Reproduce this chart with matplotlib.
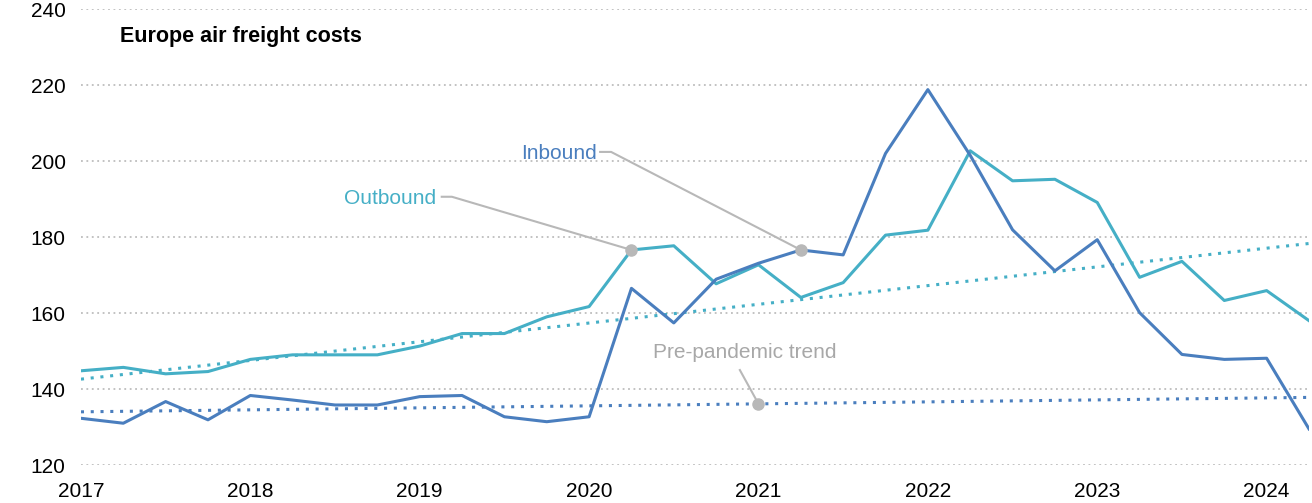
import numpy as np
import matplotlib.pyplot as plt
from matplotlib import font_manager

# данные (квартальные значения, 2017 Q1 - 2024 Q2)
quarters = [2017 + 0.25 * i for i in range(30)]
outbound = [144.8, 145.7, 144.0, 144.6, 147.8, 149.0, 149.0, 149.0, 151.3, 154.6,
            154.6, 159.0, 161.7, 176.6, 177.7, 167.7, 172.7, 164.1, 168.0, 180.5,
            181.8, 202.7, 194.8, 195.2, 189.1, 169.4, 173.6, 163.3, 165.9, 158.0]
inbound = [132.3, 131.0, 136.7, 131.9, 138.3, 137.1, 135.8, 135.8, 138.0, 138.3,
           132.7, 131.4, 132.7, 166.5, 157.4, 168.9, 173.1, 176.6, 175.3, 202.0,
           218.8, 201.5, 181.9, 171.1, 179.3, 160.1, 149.1, 147.8, 148.1, 129.5]
# линии тренда до пандемии (концы)
trend_x = [2017, 2024.25]
trend_out = [142.6, 178.3]
trend_in = [134.0, 137.8]

years = [2017, 2018, 2019, 2020, 2021, 2022, 2023, 2024]
yticks = [120, 140, 160, 180, 200, 220, 240]

c_in = '#4a7ebe'
c_out = '#45afc6'
c_grey = '#b8b8b8'

names = {f.name for f in font_manager.fontManager.ttflist}
fam = ['Liberation Sans Narrow', 'Liberation Sans'] if 'Liberation Sans Narrow' in names else ['Liberation Sans']
plt.rcParams['font.family'] = fam + ['DejaVu Sans']

fig = plt.figure(figsize=(13.12, 5.03), dpi=100)
ax = fig.add_axes([0.0617, 0.0755, 0.9360, 0.9065])

for y in yticks:
    ax.axhline(y, color='#bdbdbd', lw=1.3, ls=(0, (1, 2)), zorder=0)

ax.plot(trend_x, trend_out, color=c_out, lw=2.2, ls=(0, (1, 2.2)), zorder=2)
ax.plot(trend_x, trend_in, color=c_in, lw=2.2, ls=(0, (1, 2.2)), zorder=2)
ax.plot(quarters, outbound, color=c_out, lw=2.2, zorder=3)
ax.plot(quarters, inbound, color=c_in, lw=2.2, zorder=3)

# подписи с выносками
i_out = quarters.index(2020.25)
i_in = quarters.index(2021.25)
trend_2021 = np.interp(2021, trend_x, trend_in)
ax.plot([quarters[i_out], quarters[i_in], 2021], [outbound[i_out], inbound[i_in], trend_2021],
        'o', color=c_grey, ms=8, zorder=4)

ax.text(2018.555, 190.2, 'Outbound', color=c_out, fontsize=15, ha='left', va='center')
ax.plot([2019.13, 2019.19, 2020.25], [190.6, 190.6, outbound[i_out]], color=c_grey, lw=1.5, zorder=2)
ax.text(2019.6, 201.9, 'Inbound', color=c_in, fontsize=15, ha='left', va='center')
ax.plot([2020.065, 2020.13, 2021.25], [202.4, 202.4, inbound[i_in]], color=c_grey, lw=1.5, zorder=2)
ax.text(2020.38, 149.5, 'Pre-pandemic trend', color='#a8a8a8', fontsize=15, ha='left', va='center')
ax.plot([2020.89, 2021], [145.0, trend_2021], color=c_grey, lw=1.5, zorder=2)

ax.text(2017.23, 232.7, 'Europe air freight costs', fontsize=15.5, fontweight='bold',
        ha='left', va='center')

ax.set_xlim(2017, 2024.25)
ax.set_ylim(120, 240)
ax.set_yticks(yticks)
ax.set_xticks(years)
ax.tick_params(length=0, labelsize=15)
ax.tick_params(axis='y', pad=11)
ax.tick_params(axis='x', pad=12)
for s in ax.spines.values():
    s.set_visible(False)

fig.savefig('out.png', dpi=100)
